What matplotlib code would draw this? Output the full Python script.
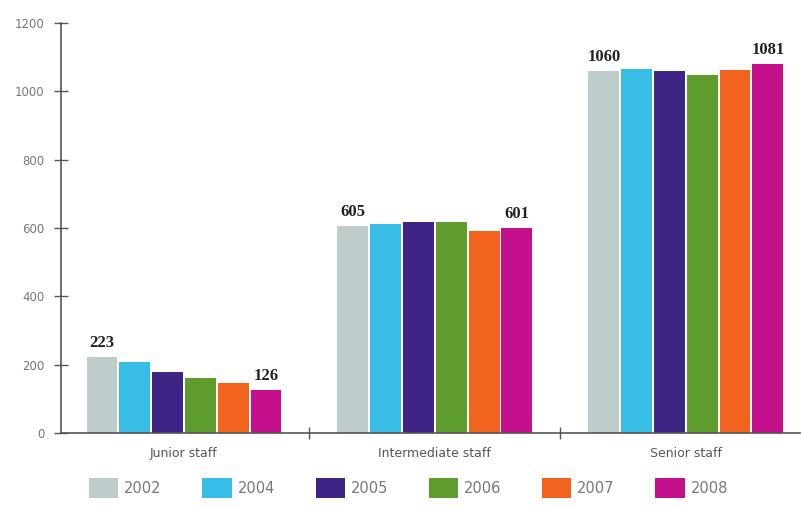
import matplotlib
matplotlib.use("Agg")
import matplotlib.pyplot as plt
import numpy as np
from matplotlib.patches import Patch

categories = ["Junior staff", "Intermediate staff", "Senior staff"]
years = ["2002", "2004", "2005", "2006", "2007", "2008"]
values = {
    "2002": [223, 605, 1060],
    "2004": [207, 612, 1065],
    "2005": [179, 617, 1059],
    "2006": [162, 617, 1048],
    "2007": [147, 591, 1062],
    "2008": [126, 601, 1081],
}
colors = ["#bfcccc", "#38bde6", "#3d2485", "#5e9c2e", "#f2641e", "#c4108a"]
yticks = [0, 200, 400, 600, 800, 1000, 1200]

SANS = "DejaVu Sans"

fig = plt.figure(figsize=(8.01, 5.07), dpi=100)
ax = fig.add_axes([61 / 801, 74 / 507, 739 / 801, 410 / 507])

x = np.arange(len(categories))
slot = 0.1307
n = len(years)
for i, yr in enumerate(years):
    offs = (i - (n - 1) / 2) * slot
    ax.bar(x + offs, values[yr], width=slot * 0.94, color=colors[i],
           edgecolor="none", zorder=2)

# value labels on the first and last bar of each group
for j in range(len(categories)):
    first = values[years[0]][j]
    last = values[years[-1]][j]
    for xpos, v in ((x[j] - (n - 1) / 2 * slot, first), (x[j] + (n - 1) / 2 * slot, last)):
        ax.text(xpos, v + 18, f"{v}", ha="center", va="bottom", fontsize=12,
                fontweight="bold", family="Liberation Serif", color="#222222")

ax.set_xlim(-0.49, 2.455)
ax.set_ylim(0, 1200)
ax.set_yticks(yticks)
ax.set_yticklabels([str(t) for t in yticks], fontsize=8.5, color="#777777", family=SANS)
ax.tick_params(axis="y", direction="inout", length=10, width=1, color="#555555", pad=7)

# category labels centred, ticks at group boundaries
ax.set_xticks([0.5, 1.5])
ax.set_xticklabels(["", ""])
ax.tick_params(axis="x", direction="inout", length=8, width=1, color="#555555")
for j, c in enumerate(categories):
    ax.text(x[j], -40, c, ha="center", va="top", fontsize=9, color="#555555",
            family=SANS)

for s in ["top", "right"]:
    ax.spines[s].set_visible(False)
for s in ["left", "bottom"]:
    ax.spines[s].set_color("#555555")
    ax.spines[s].set_linewidth(1.2)

handles = [Patch(facecolor=colors[i], edgecolor="none", label=years[i]) for i in range(n)]
leg = fig.legend(handles=handles, loc="center left", bbox_to_anchor=(76 / 801, 19 / 507),
                 ncol=n, frameon=False, handlelength=2.0, handleheight=1.7,
                 columnspacing=2.8, handletextpad=0.4,
                 prop={"family": SANS, "size": 10.5})
for t in leg.get_texts():
    t.set_color("#777777")

fig.savefig("out.png", dpi=100)
